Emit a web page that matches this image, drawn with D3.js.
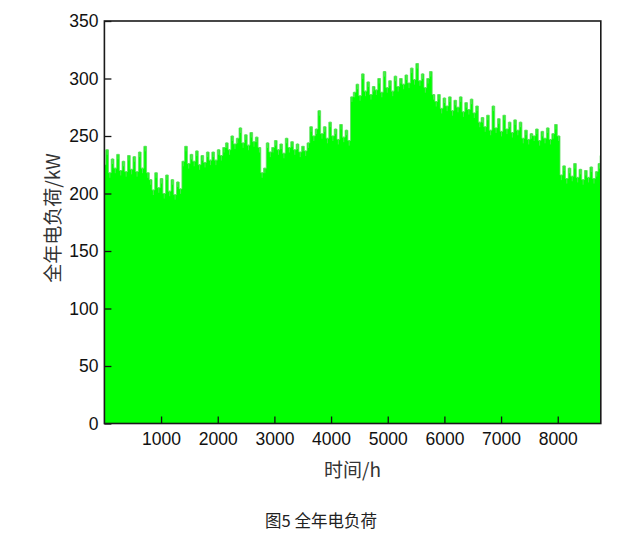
<!DOCTYPE html>
<html>
<head>
<meta charset="utf-8">
<script src="https://cdn.jsdelivr.net/npm/d3@7"></script>
<style>
  html, body { margin: 0; padding: 0; background: #fff; }
  svg { display: block; }
</style>
</head>
<body>
<svg id="chart" width="639" height="548"></svg>
<script>
// ---- data ----
const sampleStepHours = 48;           // one sample every 48 h
const yearHours = 8760;
// load samples, kW (alternating daily peaks / lows)
const loadKW = [
  225, 238, 218, 230, 222, 234, 220, 228, 219, 233,
  221, 232, 219, 236, 222, 241, 218, 212, 203, 218,
  205, 213, 200, 216, 202, 212, 199, 210, 204, 228,
  241, 226, 234, 228, 237, 225, 233, 227, 236, 229,
  236, 229, 238, 233, 240, 244, 238, 250, 243, 248,
  257, 244, 251, 242, 253, 245, 249, 240, 218, 222,
  244, 236, 240, 246, 238, 243, 235, 248, 240, 245,
  238, 243, 236, 241, 237, 244, 258, 250, 256, 272,
  252, 258, 248, 262, 250, 256, 247, 260, 249, 255,
  246, 284, 288, 295, 285, 304, 289, 297, 286, 293,
  290, 300, 288, 306, 292, 298, 289, 302, 293, 300,
  295, 303, 296, 309, 299, 313, 298, 304, 292, 300,
  306, 286, 280, 286, 274, 283, 276, 284, 272, 281,
  275, 284, 271, 279, 273, 282, 270, 276, 262, 266,
  258, 268, 255, 276, 257, 265, 254, 268, 256, 262,
  253, 264, 255, 262, 248, 255, 247, 252, 250, 256,
  246, 254, 248, 257, 247, 252, 260, 250, 216, 224,
  213, 222, 215, 226, 214, 221, 212, 220, 214, 223,
  213, 219, 226
];
const lastLoadKW = 233;                // value at hour 8760
const xTicks = [1000, 2000, 3000, 4000, 5000, 6000, 7000, 8000];
const yTicks = [0, 50, 100, 150, 200, 250, 300, 350];
const xTitle = "时间/h";
const yTitle = "全年电负荷/kW";
const caption = "图5 全年电负荷";

// ---- build series ----
const series = loadKW.map((v, i) => ({ h: i * sampleStepHours, v }));
series.push({ h: yearHours, v: lastLoadKW });

// ---- layout ----
const svg = d3.select("#chart");
const pL = 104.4, pR = 600.8, pT = 21, pB = 423.5;

const x = d3.scaleLinear().domain([0, yearHours]).range([pL, pR]);
const y = d3.scaleLinear().domain([0, 350]).range([pB, pT]);

svg.append("defs").append("clipPath").attr("id", "plotclip")
  .append("rect").attr("x", pL).attr("y", pT)
  .attr("width", pR - pL).attr("height", pB - pT);

const g = svg.append("g").attr("clip-path", "url(#plotclip)");
// solid body: one step per sample
const area = d3.area().curve(d3.curveStep)
  .x(d => x(d.h)).y0(y(0)).y1(d => y(d.v));
g.append("path").datum(series).attr("d", area).attr("fill", "#00ff00");
// paler edge / spike tips
const edge = d3.line().curve(d3.curveStep).x(d => x(d.h)).y(d => y(d.v));
g.append("path").datum(series).attr("d", edge)
  .attr("fill", "none").attr("stroke", "#5ede5e").attr("stroke-width", 0.8);
g.selectAll("line.tip").data(series).join("line")
  .attr("class", "tip")
  .attr("x1", d => x(d.h)).attr("x2", d => x(d.h))
  .attr("y1", d => y(d.v) + 5)
  .attr("y2", d => y(d.v) - 0.5)
  .attr("stroke", "#4fe64f")
  .attr("stroke-width", 1);

// axes
const fontNum = "'Liberation Sans', Arial, sans-serif";
const yAxis = d3.axisLeft(y).tickValues(yTicks).tickFormat(d3.format("d"))
  .tickSize(-7).tickPadding(6).tickSizeOuter(0);
const xAxis = d3.axisBottom(x).tickValues(xTicks).tickFormat(d3.format("d"))
  .tickSize(-7).tickPadding(9).tickSizeOuter(0);

const gy = svg.append("g").attr("transform", `translate(${pL},0)`).call(yAxis);
const gx = svg.append("g").attr("transform", `translate(0,${pB})`).call(xAxis);
[gy, gx].forEach(a => {
  a.select(".domain").remove();
  a.selectAll(".tick line").attr("stroke", "#111").attr("stroke-width", 1.3);
  a.selectAll(".tick text")
    .attr("fill", "#111")
    .style("font-family", fontNum)
    .style("font-size", "17.5px");
});

// frame
svg.append("rect")
  .attr("x", pL).attr("y", pT)
  .attr("width", pR - pL).attr("height", pB - pT)
  .attr("fill", "none")
  .attr("stroke", "#1a1a1a")
  .attr("stroke-width", 1.6);

// titles
const cjk = "'Noto Sans CJK SC', 'Noto Sans', sans-serif";
svg.append("text")
  .attr("transform", `translate(60,218) rotate(-90)`)
  .attr("text-anchor", "middle")
  .attr("fill", "#333")
  .style("font-family", cjk)
  .style("font-size", "19px")
  .text(yTitle);

svg.append("text")
  .attr("x", (pL + pR) / 2).attr("y", 477)
  .attr("text-anchor", "middle")
  .attr("fill", "#333")
  .style("font-family", cjk)
  .style("font-size", "19px")
  .text(xTitle);

svg.append("text")
  .attr("x", 321).attr("y", 527)
  .attr("text-anchor", "middle")
  .attr("fill", "#222")
  .style("font-family", cjk)
  .style("font-size", "16.5px")
  .text(caption);
</script>
</body>
</html>
